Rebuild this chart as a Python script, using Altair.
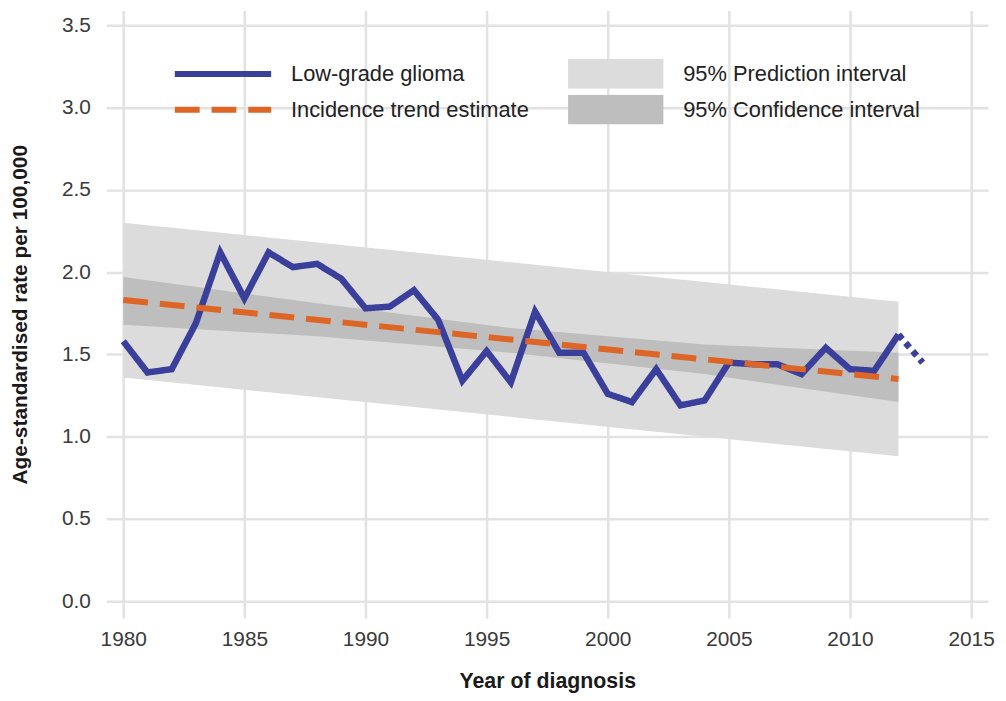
import altair as alt
import pandas as pd

# ---- data ----
years = list(range(1980, 2013))
rates = [1.58, 1.39, 1.41, 1.69, 2.12, 1.84, 2.12, 2.03, 2.05, 1.96,
         1.78, 1.79, 1.89, 1.71, 1.34, 1.52, 1.33, 1.76, 1.51, 1.51,
         1.26, 1.21, 1.41, 1.19, 1.22, 1.45, 1.44, 1.44, 1.38, 1.54,
         1.41, 1.40, 1.62]
ext_years = [2012, 2013]
ext_rates = [1.62, 1.45]
trend_years = [1980, 2012]
trend_rates = [1.83, 1.35]
pi_years = [1980, 1996, 2012]
pi_low = [1.36, 1.12, 0.88]
pi_high = [2.30, 2.06, 1.82]
ci_years = [1980, 1988, 1996, 2004, 2012]
ci_low = [1.68, 1.61, 1.51, 1.38, 1.21]
ci_high = [1.97, 1.81, 1.66, 1.56, 1.51]

x_ticks = [1980, 1985, 1990, 1995, 2000, 2005, 2010, 2015]
y_ticks = [0.0, 0.5, 1.0, 1.5, 2.0, 2.5, 3.0, 3.5]

line_names = ["Low-grade glioma", "Incidence trend estimate"]
band_names = ["95% Prediction interval", "95% Confidence interval"]

obs_df = pd.DataFrame({"year": years, "rate": rates, "series": line_names[0]})
trend_df = pd.DataFrame({"year": trend_years, "rate": trend_rates, "series": line_names[1]})
ext_df = pd.DataFrame({"year": ext_years, "rate": ext_rates})
pi_df = pd.DataFrame({"year": pi_years, "low": pi_low, "high": pi_high, "band": band_names[0]})
ci_df = pd.DataFrame({"year": ci_years, "low": ci_low, "high": ci_high, "band": band_names[1]})

FONT = "Liberation Sans, Arial, Helvetica, sans-serif"
BLUE = "#3b3f9c"
ORANGE = "#dd6627"

xscale = alt.Scale(domain=[1979.3, 2015.7], nice=False, zero=False)
yscale = alt.Scale(domain=[-0.103, 3.5905], nice=False, zero=False)

xaxis = alt.Axis(values=x_ticks, format="d", title="Year of diagnosis",
                 grid=True, gridColor="#e2e2e2", gridWidth=2.5,
                 domain=False, ticks=False, tickSize=0, labelPadding=11,
                 labelFlush=False, labelFontSize=21, labelColor="#3a3a3a",
                 labelFont=FONT, titleFont=FONT, titleFontSize=21.5,
                 titleFontWeight="bold", titleColor="#1a1a1a",
                 titleY=70, titleBaseline="alphabetic")
yaxis = alt.Axis(values=y_ticks, format=".1f",
                 title="Age-standardised rate per 100,000",
                 grid=True, gridColor="#e2e2e2", gridWidth=2.5,
                 domain=False, ticks=False, tickSize=0, labelPadding=16,
                 labelFlush=False, labelFontSize=21, labelColor="#3a3a3a",
                 labelFont=FONT, titleFont=FONT, titleFontSize=21,
                 titleFontWeight="bold", titleColor="#1a1a1a",
                 titleX=-86, titleBaseline="middle")

X = alt.X("year:Q", scale=xscale, axis=xaxis)
Y = alt.Y("rate:Q", scale=yscale, axis=yaxis)

fill_scale = alt.Scale(domain=band_names, range=["#dcdcdc", "#bebebe"])
fill_legend = alt.Legend(orient="none", legendX=465, legendY=49, title=None,
                         symbolType="M-1,-0.3125H1V0.3125H-1Z", symbolSize=9216,
                         symbolStrokeWidth=0, clipHeight=30, rowPadding=6,
                         labelOffset=20, labelFontSize=22, labelFont=FONT,
                         labelColor="#222222", labelLimit=400, padding=0,
                         symbolOpacity=1)

color_scale = alt.Scale(domain=line_names, range=[BLUE, ORANGE])
dash_scale = alt.Scale(domain=line_names, range=[[1, 0], [25, 12]])
line_legend = alt.Legend(orient="none", legendX=66, legendY=49, title=None,
                         symbolType="stroke", symbolSize=9409,
                         symbolStrokeWidth=6, clipHeight=30, rowPadding=6,
                         labelOffset=17, labelFontSize=22, labelFont=FONT,
                         labelColor="#222222", labelLimit=400, padding=0)

pi_layer = alt.Chart(pi_df).mark_area(opacity=1).encode(
    x=X, y=alt.Y("low:Q", scale=yscale, axis=yaxis), y2="high:Q",
    fill=alt.Fill("band:N", scale=fill_scale, legend=fill_legend))
ci_layer = alt.Chart(ci_df).mark_area(opacity=1).encode(
    x=X, y=alt.Y("low:Q", scale=yscale, axis=yaxis), y2="high:Q",
    fill=alt.Fill("band:N", scale=fill_scale, legend=fill_legend))

obs_layer = alt.Chart(obs_df).mark_line(strokeWidth=6.5).encode(
    x=X, y=Y,
    color=alt.Color("series:N", scale=color_scale, legend=line_legend),
    strokeDash=alt.StrokeDash("series:N", scale=dash_scale, legend=line_legend))
trend_layer = alt.Chart(trend_df).mark_line(strokeWidth=6).encode(
    x=X, y=Y,
    color=alt.Color("series:N", scale=color_scale, legend=line_legend),
    strokeDash=alt.StrokeDash("series:N", scale=dash_scale, legend=line_legend))
ext_layer = alt.Chart(ext_df).mark_line(strokeWidth=6.5, color=BLUE,
                                        strokeDash=[6, 5]).encode(x=X, y=Y)

chart = alt.layer(pi_layer, ci_layer, obs_layer, ext_layer, trend_layer).resolve_scale(
    color="shared", strokeDash="shared", fill="shared"
).properties(
    width=888, height=612,
    autosize=alt.AutoSizeParams(type="none"),
    padding={"left": 99, "top": 0, "right": 10, "bottom": 73},
    background="white",
).configure_view(stroke=None)

chart.save("out.html", embed_options={"renderer": "svg", "actions": False})
